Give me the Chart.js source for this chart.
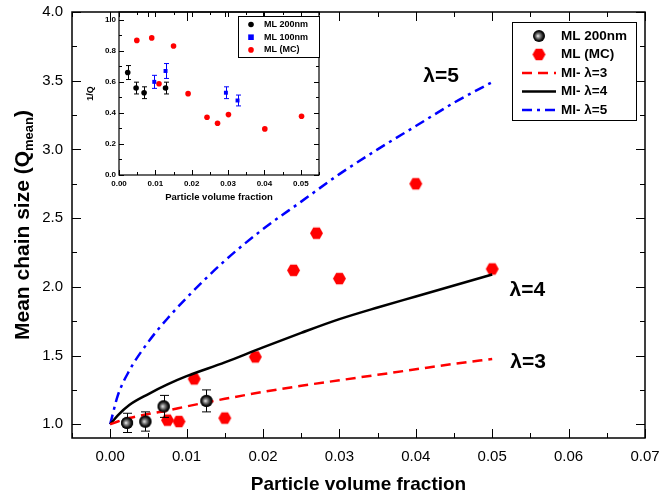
<!DOCTYPE html>
<html>
<head>
<meta charset="utf-8">
<script src="https://cdn.jsdelivr.net/npm/chart.js@4"></script>
<style>
  html, body { margin: 0; padding: 0; background: #fff; }
  #wrap { position: relative; width: 659px; height: 498px; }
  #main { position: absolute; left: 0; top: 0; }
  #inset { position: absolute; left: 80px; top: 0; }
</style>
</head>
<body>
<div id="wrap">
  <canvas id="main" width="659" height="498"></canvas>
  <canvas id="inset" width="245" height="205"></canvas>
</div>
<script>
// ---- main plot data ----
const x200 = [0.0022, 0.0046, 0.0070, 0.0126];
const q200 = [1.01, 1.02, 1.13, 1.17];
const q200Err = [0.07, 0.07, 0.08, 0.08];

const xMC = [0.0075, 0.009, 0.011, 0.015, 0.019, 0.024, 0.027, 0.030, 0.040, 0.050];
const qMC = [1.03, 1.02, 1.33, 1.045, 1.49, 2.12, 2.39, 2.06, 2.75, 2.13];

const xModel = [0, 0.001, 0.0025, 0.005, 0.0075, 0.01, 0.015, 0.02, 0.025, 0.03, 0.035, 0.04, 0.045, 0.05];
const qLam3 = [1.0, 1.02, 1.045, 1.075, 1.10, 1.13, 1.185, 1.235, 1.28, 1.32, 1.36, 1.40, 1.44, 1.475];
const qLam4 = [1.0, 1.065, 1.14, 1.22, 1.29, 1.35, 1.45, 1.56, 1.665, 1.765, 1.85, 1.93, 2.01, 2.09];
const qLam5 = [1.0, 1.21, 1.39, 1.60, 1.77, 1.92, 2.19, 2.42, 2.62, 2.82, 3.00, 3.17, 3.34, 3.49];

const xTicks = [0, 0.01, 0.02, 0.03, 0.04, 0.05, 0.06, 0.07];
const yTicks = [1.0, 1.5, 2.0, 2.5, 3.0, 3.5, 4.0];

// ---- inset data ----
const x200i = [0.0024, 0.0047, 0.0069, 0.0128];
const invQ200 = [0.66, 0.56, 0.53, 0.56];
const invQ200Err = [0.045, 0.038, 0.038, 0.038];

const x100i = [0.0097, 0.0128, 0.0294, 0.0326];
const invQ100 = [0.60, 0.67, 0.53, 0.48];
const invQ100Err = [0.042, 0.048, 0.038, 0.035];

const xMCi = [0.0049, 0.009, 0.011, 0.015, 0.019, 0.0242, 0.0271, 0.0301, 0.0401, 0.0502];
const invQMC = [0.867, 0.883, 0.588, 0.831, 0.524, 0.372, 0.333, 0.389, 0.297, 0.378];

const xTicksInset = [0, 0.01, 0.02, 0.03, 0.04, 0.05];
const yTicksInset = [0, 0.2, 0.4, 0.6, 0.8, 1.0];

const FONT = 'Arial, "Liberation Sans", sans-serif';

const pts = (xs, ys) => xs.map((x, i) => ({x: x, y: ys[i]}));

// shaded black ball used for the ML 200nm points
function sphere(r) {
  const c = document.createElement('canvas');
  c.width = c.height = 2 * r + 2;
  const g = c.getContext('2d');
  const cx = r + 1, cy = r + 1;
  const grad = g.createRadialGradient(cx - r * 0.2, cy, 0, cx, cy, r);
  grad.addColorStop(0, '#f4f4f4');
  grad.addColorStop(0.3, '#909090');
  grad.addColorStop(0.75, '#151515');
  grad.addColorStop(1, '#000');
  g.fillStyle = grad;
  g.beginPath();
  g.arc(cx, cy, r, 0, Math.PI * 2);
  g.fill();
  return c;
}

function hexagon(r, color) {
  const c = document.createElement('canvas');
  c.width = c.height = 2 * r + 2;
  const g = c.getContext('2d');
  g.fillStyle = color;
  g.beginPath();
  for (let i = 0; i < 6; i++) {
    const a = i * Math.PI / 3;
    const px = r + 1 + r * Math.cos(a), py = r + 1 + r * Math.sin(a);
    i ? g.lineTo(px, py) : g.moveTo(px, py);
  }
  g.closePath();
  g.fill();
  return c;
}

const ball = sphere(6);
const hex = hexagon(6.5, '#ff0000');

// inward ticks on all four sides plus the box
function frameTicks(cfg) {
  return {
    id: 'frameTicks',
    afterDraw(chart) {
      const {ctx, chartArea: a, scales} = chart;
      ctx.save();
      ctx.strokeStyle = '#000';
      ctx.lineWidth = cfg.tickWidth;
      ['x', 'y'].forEach(id => {
        const s = scales[id];
        const step = cfg[id].minor, every = cfg[id].every;
        const k0 = Math.ceil(s.min / step - 1e-9), k1 = Math.floor(s.max / step + 1e-9);
        for (let k = k0; k <= k1; k++) {
          const len = (k % every === 0) ? cfg.major : cfg.minorLen;
          const p = Math.round(s.getPixelForValue(k * step)) + 0.5;
          ctx.beginPath();
          if (id === 'x') {
            ctx.moveTo(p, a.bottom); ctx.lineTo(p, a.bottom - len);
            ctx.moveTo(p, a.top); ctx.lineTo(p, a.top + len);
          } else {
            ctx.moveTo(a.left, p); ctx.lineTo(a.left + len, p);
            ctx.moveTo(a.right, p); ctx.lineTo(a.right - len, p);
          }
          ctx.stroke();
        }
      });
      ctx.lineWidth = cfg.frameWidth;
      ctx.strokeRect(a.left, a.top, a.width, a.height);
      ctx.restore();
    }
  };
}

const errorBars = {
  id: 'errorBars',
  afterDatasetsDraw(chart) {
    const {ctx} = chart;
    const ys = chart.scales.y;
    chart.data.datasets.forEach((ds, i) => {
      if (!ds.errors) return;
      const meta = chart.getDatasetMeta(i);
      ctx.save();
      ctx.strokeStyle = ds.errorColor;
      ctx.lineWidth = 1;
      meta.data.forEach((el, j) => {
        const v = ds.data[j].y, e = ds.errors[j];
        const x = Math.round(el.x) + 0.5;
        const y1 = ys.getPixelForValue(v + e), y2 = ys.getPixelForValue(v - e);
        const w = ds.capWidth / 2;
        ctx.beginPath();
        ctx.moveTo(x, y1); ctx.lineTo(x, y2);
        ctx.moveTo(x - w, y1); ctx.lineTo(x + w, y1);
        ctx.moveTo(x - w, y2); ctx.lineTo(x + w, y2);
        ctx.stroke();
      });
      ctx.restore();
    });
  }
};

// redraw the ball markers on top of their error bars
const markersOnTop = {
  id: 'markersOnTop',
  afterDatasetsDraw(chart) {
    chart.data.datasets.forEach((ds, i) => {
      if (ds.errors && ds.redrawOnTop) chart.getDatasetMeta(i).data.forEach(el => el.draw(chart.ctx));
    });
  }
};

function boxLegend(cfg) {
  return {
    id: 'boxLegend',
    afterDraw(chart) {
      const {ctx} = chart;
      ctx.save();
      ctx.fillStyle = '#fff';
      ctx.fillRect(cfg.left, cfg.top, cfg.width, cfg.height);
      ctx.strokeStyle = '#000';
      ctx.lineWidth = 1;
      ctx.strokeRect(cfg.left + 0.5, cfg.top + 0.5, cfg.width, cfg.height);
      ctx.font = cfg.font;
      ctx.textBaseline = 'middle';
      cfg.items.forEach((idx, n) => {
        const ds = chart.data.datasets[idx];
        const y = cfg.top + cfg.first + n * cfg.gap;
        const mx = cfg.left + cfg.markX;
        if (ds.showLine) {
          ctx.strokeStyle = ds.borderColor;
          ctx.lineWidth = ds.borderWidth;
          ctx.setLineDash(ds.borderDash || []);
          ctx.beginPath();
          ctx.moveTo(mx - cfg.lineLen / 2, y);
          ctx.lineTo(mx + cfg.lineLen / 2, y);
          ctx.stroke();
          ctx.setLineDash([]);
        } else if (ds.pointStyle instanceof HTMLCanvasElement) {
          ctx.drawImage(ds.pointStyle, mx - ds.pointStyle.width / 2, y - ds.pointStyle.height / 2);
        } else {
          ctx.fillStyle = ds.backgroundColor;
          const r = ds.pointRadius;
          ctx.beginPath();
          if (ds.pointStyle === 'rect') ctx.rect(mx - r, y - r, 2 * r, 2 * r);
          else ctx.arc(mx, y, r, 0, Math.PI * 2);
          ctx.fill();
        }
        ctx.fillStyle = '#000';
        ctx.fillText(ds.label, cfg.left + cfg.textX, y);
      });
      ctx.restore();
    }
  };
}

const curveLabels = {
  id: 'curveLabels',
  afterDraw(chart, args, opts) {
    const {ctx, scales} = chart;
    ctx.save();
    ctx.font = opts.font;
    ctx.fillStyle = '#000';
    ctx.textAlign = 'center';
    ctx.textBaseline = 'middle';
    opts.items.forEach(it => {
      ctx.fillText(it.text, scales.x.getPixelForValue(it.x), scales.y.getPixelForValue(it.y));
    });
    ctx.restore();
  }
};

const yTitle = {
  id: 'yTitle',
  afterDraw(chart) {
    const {ctx, chartArea: a} = chart;
    const big = 'bold 21px ' + FONT, small = 'bold 13px ' + FONT;
    const main = 'Mean chain size (Q', sub = 'mean', close = ')';
    ctx.save();
    ctx.font = big;
    const w1 = ctx.measureText(main).width, w3 = ctx.measureText(close).width;
    ctx.font = small;
    const w2 = ctx.measureText(sub).width;
    const total = w1 + w2 + w3;
    ctx.translate(29, (a.top + a.bottom) / 2);
    ctx.rotate(-Math.PI / 2);
    ctx.fillStyle = '#000';
    ctx.textBaseline = 'alphabetic';
    let x = -total / 2;
    ctx.font = big; ctx.fillText(main, x, 0); x += w1;
    ctx.font = small; ctx.fillText(sub, x, 4); x += w2;
    ctx.font = big; ctx.fillText(close, x, 0);
    ctx.restore();
  }
};

const modelLine = (label, ys, color, dash) => ({
  label: label, data: pts(xModel, ys), showLine: true, pointRadius: 0, borderColor: color,
  borderWidth: 2.5, borderDash: dash, cubicInterpolationMode: 'monotone', order: 0
});

new Chart(document.getElementById('main'), {
  type: 'scatter',
  data: {
    datasets: [
      {label: 'ML 200nm', data: pts(x200, q200), errors: q200Err, errorColor: '#000', capWidth: 9, redrawOnTop: true,
       pointStyle: ball, pointRadius: 6, order: 2},
      {label: 'ML (MC)', data: pts(xMC, qMC), pointStyle: hex, pointRadius: 6.5, order: 3},
      modelLine('MI- \u03bb=3', qLam3, '#ff0000', [10, 6]),
      modelLine('MI- \u03bb=4', qLam4, '#000000', []),
      modelLine('MI- \u03bb=5', qLam5, '#0000ff', [10, 5, 3, 5])
    ]
  },
  options: {
    responsive: false,
    animation: false,
    layout: {padding: {top: 12, right: 14, left: 0, bottom: 0}},
    plugins: {
      legend: {display: false},
      tooltip: {enabled: false},
      curveLabels: {
        font: 'bold 21px ' + FONT,
        items: [
          {text: '\u03bb=5', x: 0.0433, y: 3.53},
          {text: '\u03bb=4', x: 0.0546, y: 1.975},
          {text: '\u03bb=3', x: 0.0547, y: 1.45}
        ]
      }
    },
    scales: {
      x: {
        type: 'linear', min: -0.005, max: 0.07,
        grid: {display: false, drawTicks: false}, border: {display: false},
        afterBuildTicks: s => { s.ticks = xTicks.map(v => ({value: v})); },
        afterFit: s => { s.height = 60; s.paddingLeft = 0; s.paddingRight = 0; },
        ticks: {padding: 10, color: '#000', autoSkip: false, maxRotation: 0,
                font: {family: FONT, size: 15}, callback: v => v.toFixed(2)},
        title: {display: true, text: 'Particle volume fraction', color: '#000',
                font: {family: FONT, size: 19, weight: 'bold'}, padding: {top: 0, bottom: 2}}
      },
      y: {
        type: 'linear', min: 0.9, max: 4.0,
        grid: {display: false, drawTicks: false}, border: {display: false},
        afterBuildTicks: s => { s.ticks = yTicks.map(v => ({value: v})); },
        afterFit: s => { s.width = 72; s.paddingTop = 0; s.paddingBottom = 0; },
        ticks: {padding: 9, color: '#000', font: {family: FONT, size: 15}, callback: v => v.toFixed(1)}
      }
    }
  },
  plugins: [
    errorBars, markersOnTop, curveLabels, yTitle,
    frameTicks({x: {minor: 0.005, every: 2}, y: {minor: 0.25, every: 2}, major: 9, minorLen: 5, tickWidth: 1, frameWidth: 1.5}),
    boxLegend({left: 512, top: 22, width: 124, height: 98, first: 14, gap: 18.5, markX: 27, lineLen: 34,
               textX: 49, font: 'bold 13.5px ' + FONT, items: [0, 1, 2, 3, 4]})
  ]
});

new Chart(document.getElementById('inset'), {
  type: 'scatter',
  data: {
    datasets: [
      {label: 'ML 200nm', data: pts(x200i, invQ200), errors: invQ200Err, errorColor: '#000', capWidth: 5,
       pointStyle: 'circle', pointRadius: 2.8, backgroundColor: '#000', borderWidth: 0},
      {label: 'ML 100nm', data: pts(x100i, invQ100), errors: invQ100Err, errorColor: '#0000ff', capWidth: 5,
       pointStyle: 'rect', pointRadius: 2.8, backgroundColor: '#0000ff', borderWidth: 0},
      {label: 'ML (MC)', data: pts(xMCi, invQMC), pointStyle: 'circle', pointRadius: 2.8,
       backgroundColor: '#ff0000', borderWidth: 0}
    ]
  },
  options: {
    responsive: false,
    animation: false,
    layout: {padding: {top: 12, right: 6, left: 0, bottom: 0}},
    plugins: {legend: {display: false}, tooltip: {enabled: false}},
    scales: {
      x: {
        type: 'linear', min: 0, max: 0.055,
        grid: {display: false, drawTicks: false}, border: {display: false},
        afterBuildTicks: s => { s.ticks = xTicksInset.map(v => ({value: v})); },
        afterFit: s => { s.height = 30; s.paddingLeft = 0; s.paddingRight = 0; },
        ticks: {padding: 4, color: '#000', autoSkip: false, maxRotation: 0,
                font: {family: FONT, size: 8, weight: 'bold'}, callback: v => v.toFixed(2)},
        title: {display: true, text: 'Particle volume fraction', color: '#000',
                font: {family: FONT, size: 9.5, weight: 'bold'}, padding: {top: 0, bottom: 2}}
      },
      y: {
        type: 'linear', min: 0, max: 1.05,
        grid: {display: false, drawTicks: false}, border: {display: false},
        afterBuildTicks: s => { s.ticks = yTicksInset.map(v => ({value: v})); },
        afterFit: s => { s.width = 39; s.paddingTop = 0; s.paddingBottom = 0; },
        ticks: {padding: 3, color: '#000', font: {family: FONT, size: 8, weight: 'bold'}, callback: v => v.toFixed(1)},
        title: {display: true, text: '1/Q', color: '#000',
                font: {family: FONT, size: 9, weight: 'bold'}, padding: {top: 5, bottom: 0}}
      }
    }
  },
  plugins: [
    errorBars,
    frameTicks({x: {minor: 0.005, every: 2}, y: {minor: 0.1, every: 2}, major: 5, minorLen: 3, tickWidth: 1, frameWidth: 1.2}),
    boxLegend({left: 158, top: 16, width: 81, height: 41, first: 8.5, gap: 12.7, markX: 13, lineLen: 14,
               textX: 26, font: 'bold 9px ' + FONT, items: [0, 1, 2]})
  ]
});
</script>
</body>
</html>
